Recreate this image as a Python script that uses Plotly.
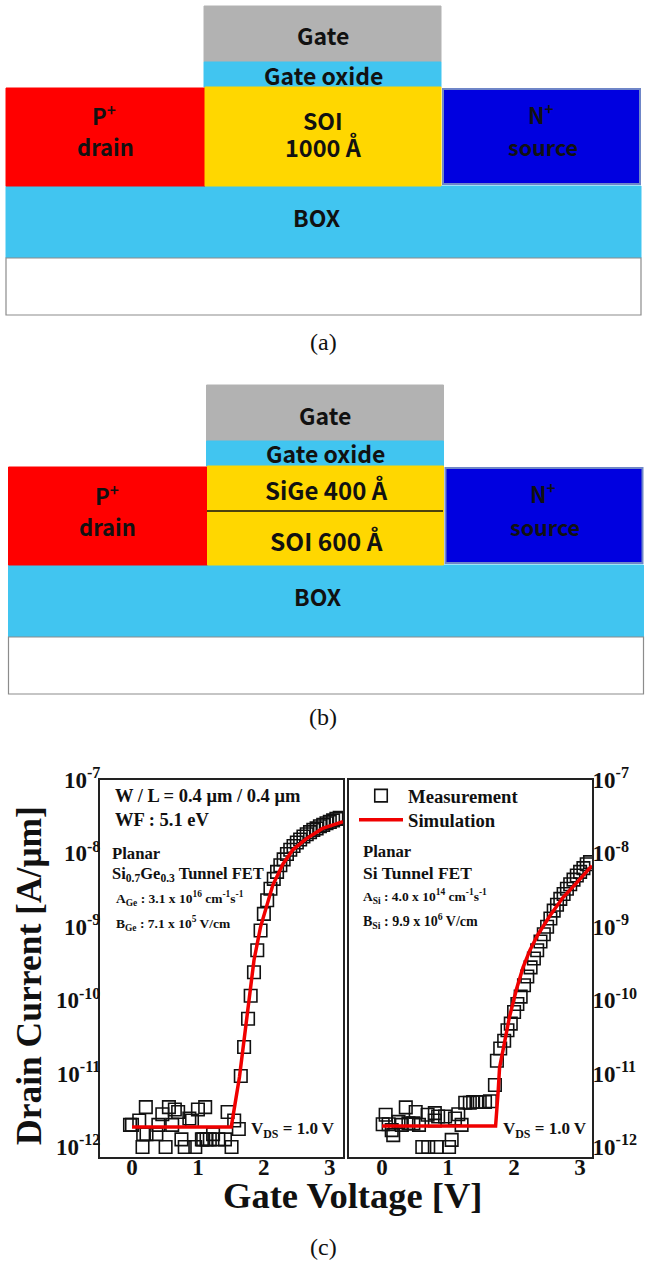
import plotly.graph_objects as go

W, H = 653, 1270
SERIF = "Liberation Serif"
SANS = "Noto Sans CJK KR"

# ---------- data ----------
tick_x = [0, 1, 2, 3]
tick_y = [1e-12, 1e-11, 1e-10, 1e-9, 1e-8, 1e-7]
tick_y_text = ["10<sup>-12</sup>", "10<sup>-11</sup>", "10<sup>-10</sup>", "10<sup>-9</sup>", "10<sup>-8</sup>", "10<sup>-7</sup>"]

sige_meas_v = [-0.03, 0.0, 0.11, 0.16, 0.17, 0.21, 0.22, 0.37, 0.40, 0.46, 0.51, 0.56, 0.61, 0.65, 0.70, 0.75, 0.80,
               0.87, 0.91, 0.96, 1.0, 1.06, 1.08, 1.11, 1.13, 1.18, 1.23, 1.31, 1.41, 1.45, 1.51, 1.55, 1.62,
               1.65, 1.70, 1.76, 1.80, 1.85, 1.90, 1.95, 2.0, 2.05, 2.10, 2.15, 2.20, 2.25, 2.30, 2.35, 2.40, 2.45,
               2.50, 2.55, 2.60, 2.65, 2.70, 2.75, 2.80, 2.85, 2.90, 2.95, 3.0, 3.05, 3.10, 3.15]
sige_meas_i = [2.0e-12, 2.0e-12, 2.3e-12, 1.0e-12, 1.5e-12, 3.5e-12, 1.5e-12, 1.5e-12, 2.0e-12, 2.8e-12, 1.0e-12, 3.5e-12,
               2.0e-12, 3.25e-12, 3.0e-12, 1.27e-12, 1.0e-12, 2.45e-12, 2.3e-12, 1.0e-12, 3.25e-12, 1.27e-12, 1.27e-12,
               3.5e-12, 1.27e-12, 1.27e-12, 1.5e-12, 1.27e-12, 1.27e-12, 3.0e-12, 1.0e-12, 2.3e-12, 1.76e-12,
               9.3e-12, 2.3e-11, 5.6e-11, 1.15e-10, 2.4e-10, 4.8e-10, 8.9e-10, 1.5e-9, 2.3e-9, 3.3e-9, 4.5e-9, 5.6e-9,
               6.9e-9, 8.3e-9, 9.8e-9, 1.12e-8, 1.26e-8, 1.41e-8, 1.55e-8, 1.7e-8, 1.82e-8, 1.95e-8, 2.09e-8, 2.19e-8,
               2.34e-8, 2.45e-8, 2.57e-8, 2.69e-8, 2.82e-8, 2.95e-8, 3.05e-8]
sige_sim_v = [0.0, 1.505, 1.63, 1.74, 1.85, 1.95, 2.035, 2.136, 2.29, 2.44, 2.64, 2.89, 3.2]
sige_sim_i = [1.87e-12, 1.87e-12, 9.0e-12, 5.6e-11, 3.5e-10, 1.0e-9, 1.86e-9, 3.7e-9, 7.2e-9, 1.12e-8, 1.58e-8, 2.19e-8, 2.7e-8]

si_meas_v = [0.01, 0.055, 0.10, 0.147, 0.17, 0.25, 0.30, 0.36, 0.40, 0.475, 0.51, 0.56, 0.61, 0.69, 0.70, 0.80, 0.80,
             0.83, 0.85, 0.955, 1.015, 1.055, 1.105, 1.155, 1.205, 1.26, 1.33, 1.38, 1.43, 1.48, 1.56, 1.635, 1.71,
             1.74, 1.79, 1.85, 1.90, 1.95, 2.0, 2.05, 2.10, 2.15, 2.20, 2.25, 2.30, 2.35, 2.40, 2.45, 2.50, 2.55, 2.60,
             2.65, 2.70, 2.75, 2.80, 2.85, 2.90, 2.95, 3.0, 3.05, 3.10, 3.15]
si_meas_i = [2.04e-12, 2.75e-12, 2.04e-12, 1.7e-12, 1.45e-12, 2.2e-12, 2.0e-12, 3.47e-12, 2.1e-12, 2.1e-12, 3.0e-12, 2.0e-12,
             1.0e-12, 2.75e-12, 1.0e-12, 2.9e-12, 2.3e-12, 1.0e-12, 2.6e-12, 2.6e-12, 1.0e-12, 1.25e-12, 2.45e-12, 2.8e-12,
             2.0e-12, 4.0e-12, 4.0e-12, 4.1e-12, 4.1e-12, 4.1e-12, 4.1e-12, 4.2e-12, 7.0e-12,
             1.5e-11, 2.2e-11, 2.8e-11, 3.9e-11, 4.8e-11, 6.9e-11, 8.9e-11, 1.12e-10, 1.6e-10, 2.1e-10, 2.8e-10, 3.7e-10,
             4.8e-10, 6.3e-10, 7.9e-10, 1.0e-9, 1.3e-9, 1.66e-9, 2.0e-9, 2.4e-9, 2.8e-9, 3.3e-9, 3.8e-9, 4.4e-9, 5.0e-9,
             5.6e-9, 6.3e-9, 7.1e-9, 7.6e-9]
si_sim_v = [0.0, 1.72, 1.76, 1.78, 1.86, 1.93, 2.035, 2.136, 2.24, 2.36, 2.54, 2.74, 2.94, 3.18]
si_sim_i = [1.93e-12, 1.93e-12, 5.9e-12, 1.2e-11, 2.8e-11, 5.9e-11, 1.4e-10, 2.8e-10, 4.8e-10, 7.8e-10, 1.4e-9, 2.5e-9, 3.9e-9, 6.8e-9]


# ---------- layout helpers ----------
def px(x):
    return x / W


def py(y):
    return 1 - y / H


fig = go.Figure()


def marks(vx, vy, sx, sy, xa, ya, legend):
    fig.add_trace(go.Scatter(x=vx, y=vy, mode="markers", name="Measurement", xaxis=xa, yaxis=ya, showlegend=legend,
                             legend="legend",
                             marker=dict(symbol="square-open", size=12.5, color="#111", line=dict(width=1.6, color="#111"))))
    fig.add_trace(go.Scatter(x=sx, y=sy, mode="lines", name="Simulation", xaxis=xa, yaxis=ya, showlegend=legend,
                             legend="legend2",
                             line=dict(color="#f00000", width=3.5)))


marks(sige_meas_v, sige_meas_i, sige_sim_v, sige_sim_i, "x", "y", False)
marks(si_meas_v, si_meas_i, si_sim_v, si_sim_i, "x2", "y2", True)

shapes, notes = [], []


def rect(x0, y0, x1, y1, fill, line=None, lw=1):
    shapes.append(dict(type="rect", xref="paper", yref="paper", x0=px(x0), x1=px(x1), y0=py(y1), y1=py(y0),
                       fillcolor=fill, line=dict(color=line or fill, width=lw), layer="below"))


def text(x, y, s, size, family=SERIF, color="#111", anchor="center", angle=0, weight="bold"):
    notes.append(dict(xref="paper", yref="paper", x=px(x), y=py(y), text=s, showarrow=False, xanchor=anchor, yanchor="middle",
                      textangle=angle, font=dict(family=family, size=size, color=color, weight=weight)))


def device(dx, dy):
    rect(204 + dx, 6 + dy, 441 + dx, 62 + dy, "#b2b2b2")
    rect(204 + dx, 62 + dy, 441 + dx, 87 + dy, "#41c5f0")
    rect(6 + dx, 186 + dy, 641 + dx, 258 + dy, "#41c5f0")
    rect(6 + dx, 258 + dy, 641 + dx, 315 + dy, "#ffffff", "#8c8c8c", 1.2)
    rect(6 + dx, 88 + dy, 205 + dx, 186 + dy, "#ff0000")
    rect(205 + dx, 87 + dy, 441 + dx, 186 + dy, "#ffd700")
    rect(443 + dx, 89 + dy, 640 + dx, 184 + dy, "#0000e0", "#6f86c8", 2)


device(0, 0)
device(2.5, 379)
shapes.append(dict(type="line", xref="paper", yref="paper", x0=px(207), x1=px(443), y0=py(511), y1=py(511),
                   line=dict(color="#111", width=1.6)))

D = dict(family=SANS, weight="bold")
text(323, 35, "Gate", 23, **D)
text(323, 75, "Gate oxide", 23, **D)
text(323, 120, "SOI", 23, **D)
text(323, 147, "1000 Å", 23.5, **D)
text(104, 114, "P<sup>+</sup>", 22, **D)
text(105, 146, "drain", 22, **D)
text(541, 113, "N<sup>+</sup>", 22, **D)
text(543, 146, "source", 21.5, **D)
text(317, 217, "BOX", 23, **D)
text(323, 342, "(a)", 24, weight="normal")

text(325, 415, "Gate", 23, **D)
text(325, 453, "Gate oxide", 23, **D)
text(326, 489, "SiGe 400 Å", 24, **D)
text(326, 540, "SOI 600 Å", 24.5, **D)
text(107, 494, "P<sup>+</sup>", 22, **D)
text(107, 526, "drain", 22, **D)
text(543, 493, "N<sup>+</sup>", 22, **D)
text(545, 526, "source", 21.5, **D)
text(318, 596, "BOX", 23, **D)
text(323, 717, "(b)", 24, weight="normal")
text(323, 1247, "(c)", 24, weight="normal")

text(29, 976, "Drain Current [A/μm]", 35.5, angle=-90)
text(353, 1195, "Gate Voltage [V]", 36.5)

text(113, 796, "W / L = 0.4 μm / 0.4 μm", 18.5, anchor="left")
text(113, 820, "WF : 5.1 eV", 18.5, anchor="left")
text(110, 853, "Planar", 16.7, anchor="left")
text(110, 874, "Si<sub>0.7</sub>Ge<sub>0.3</sub> Tunnel FET", 16.5, anchor="left")
text(114, 898, "A<sub>Ge</sub> : 3.1 x 10<sup>16</sup> cm<sup>-1</sup>s<sup>-1</sup>", 13.5, anchor="left")
text(114, 923, "B<sub>Ge</sub> : 7.1 x 10<sup>5</sup> V/cm", 13.5, anchor="left")
text(249, 1130, "V<sub>DS</sub> = 1.0 V", 17, anchor="left")

text(361, 851, "Planar", 16.7, anchor="left")
text(361, 873, "Si Tunnel FET", 17.5, anchor="left")
text(361, 896, "A<sub>Si</sub> : 4.0 x 10<sup>14</sup> cm<sup>-1</sup>s<sup>-1</sup>", 13.5, anchor="left")
text(361, 921, "B<sub>Si</sub> : 9.9 x 10<sup>6</sup> V/cm", 14, anchor="left")
text(501, 1130, "V<sub>DS</sub> = 1.0 V", 17, anchor="left")

tick_font = dict(family=SERIF, size=23, color="#111", weight="bold")
ax_common = dict(showgrid=False, zeroline=False, showline=True, mirror=True, linecolor="#222", linewidth=2, ticks="",
                 automargin=False, tickfont=tick_font)
legend_style = dict(xanchor="left", yanchor="middle", bgcolor="rgba(0,0,0,0)", itemwidth=44,
                    font=dict(family=SERIF, size=18.7, color="#111", weight="bold"))

fig.update_layout(
    width=W, height=H, margin=dict(l=0, r=0, t=0, b=0, autoexpand=False), paper_bgcolor="white",
    plot_bgcolor="rgba(0,0,0,0)", shapes=shapes, annotations=notes,
    legend=dict(x=px(354), y=py(796), **legend_style),
    legend2=dict(x=px(354), y=py(820), **legend_style),
    xaxis=dict(domain=[px(100), px(343)], range=[-0.485, 3.2], tickvals=tick_x, ticktext=tick_x, ticklabelstandoff=-12, **ax_common),
    yaxis=dict(domain=[py(1157), py(780)], type="log", range=[-12.136, -7], tickvals=tick_y, ticktext=tick_y_text, ticklabelstandoff=-7, **ax_common),
    xaxis2=dict(domain=[px(349), px(592)], range=[-0.5, 3.18], tickvals=tick_x, ticktext=tick_x, anchor="y2", ticklabelstandoff=-12, **ax_common),
    yaxis2=dict(domain=[py(1157), py(780)], type="log", range=[-12.136, -7], tickvals=tick_y, ticktext=tick_y_text, anchor="x2", side="right", ticklabelstandoff=-6, **ax_common),
)

fig.write_html("out.html", config=dict(displayModeBar=False), post_script="document.body.style.margin='0';")
